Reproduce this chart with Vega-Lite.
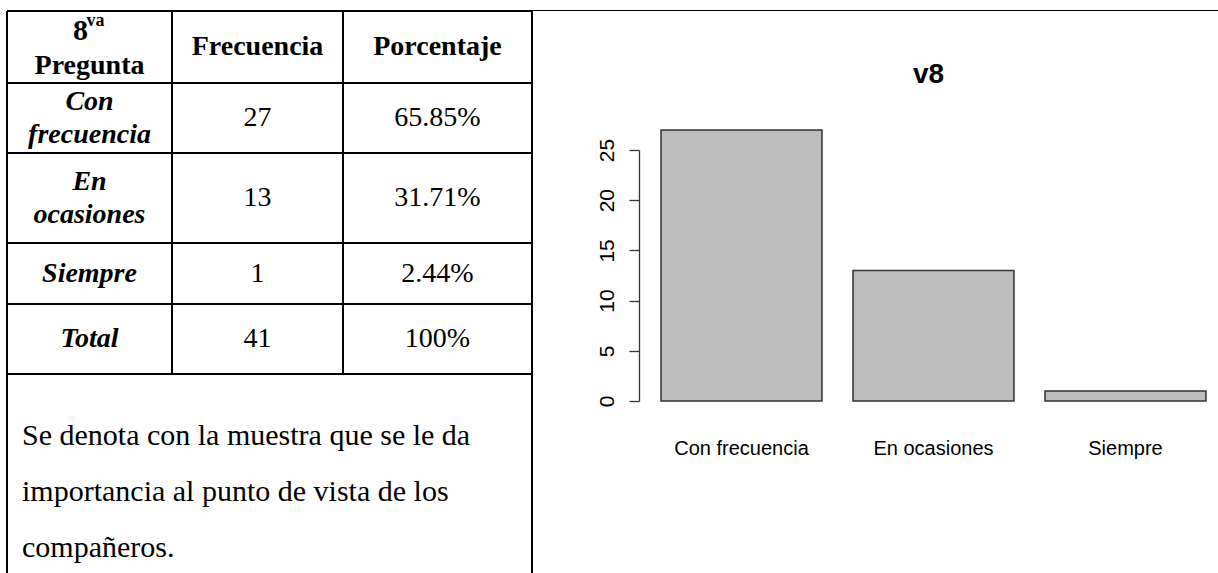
{
  "$schema": "https://vega.github.io/schema/vega-lite/v6.json",
  "padding": 0,
  "background": "white",
  "spacing": 0,
  "bounds": "flush",
  "config": {"view": {"stroke": null}},
  "datasets": {
    "tabla": [
      {"respuesta": "Con frecuencia", "fila": 2, "frecuencia": 27, "porcentaje": "65.85%"},
      {"respuesta": "En ocasiones", "fila": 3, "frecuencia": 13, "porcentaje": "31.71%"},
      {"respuesta": "Siempre", "fila": 4, "frecuencia": 1, "porcentaje": "2.44%"},
      {"respuesta": "Total", "fila": 5, "frecuencia": 41, "porcentaje": "100%"}
    ],
    "encabezados": [
      {"columna": 2, "texto": "Frecuencia"},
      {"columna": 3, "texto": "Porcentaje"}
    ],
    "pregunta": [{"numero": "8", "sufijo": "va", "texto": "Pregunta"}],
    "hlineas": [
      {"pos": 0.5, "desde": 0.5, "hasta": 3.5},
      {"pos": 1.5, "desde": 0.5, "hasta": 3.5},
      {"pos": 2.5, "desde": 0.5, "hasta": 3.5},
      {"pos": 3.5, "desde": 0.5, "hasta": 3.5},
      {"pos": 4.5, "desde": 0.5, "hasta": 3.5},
      {"pos": 5.5, "desde": 0.5, "hasta": 3.5}
    ],
    "vlineas": [
      {"pos": 0.5, "desde": 0.5, "hasta": 6.5},
      {"pos": 1.5, "desde": 0.5, "hasta": 5.5},
      {"pos": 2.5, "desde": 0.5, "hasta": 5.5},
      {"pos": 3.5, "desde": 0.5, "hasta": 6.5}
    ],
    "borde": [{"pos": 0.5, "desde": 3.5, "hasta": 4.5}],
    "nota": [{"texto": "Se denota con la muestra que se le da\nimportancia al punto de vista de los\ncompañeros."}]
  },
  "hconcat": [
    {
      "width": 639,
      "height": 573,
      "layer": [
        {
          "data": {"name": "hlineas"},
          "mark": {"type": "rule", "strokeWidth": 2, "color": "black"},
          "encoding": {
            "y": {"field": "pos", "type": "quantitative", "axis": null, "scale": {"domain": [0.5, 1.5, 2.5, 3.5, 4.5, 5.5, 6.5], "range": [11, 83, 153, 243, 304, 374, 573], "nice": false, "zero": false}},
            "x": {"field": "desde", "type": "quantitative", "axis": null, "scale": {"domain": [0.5, 1.5, 2.5, 3.5, 4.5], "range": [7, 172, 343, 532, 1218], "nice": false, "zero": false}},
            "x2": {"field": "hasta"}
          }
        },
        {
          "data": {"name": "vlineas"},
          "mark": {"type": "rule", "strokeWidth": 2, "color": "black"},
          "encoding": {
            "x": {"field": "pos", "type": "quantitative", "axis": null},
            "y": {"field": "desde", "type": "quantitative", "axis": null},
            "y2": {"field": "hasta"}
          }
        },
        {
          "data": {"name": "borde"},
          "mark": {"type": "rule", "strokeWidth": 1, "color": "black", "yOffset": -0.5},
          "encoding": {
            "y": {"field": "pos", "type": "quantitative", "axis": null},
            "x": {"field": "desde", "type": "quantitative", "axis": null},
            "x2": {"field": "hasta"}
          }
        },
        {
          "data": {"name": "encabezados"},
          "mark": {"type": "text", "font": "Liberation Serif", "fontSize": 28, "fontWeight": "bold", "baseline": "middle", "align": "center", "color": "black"},
          "encoding": {
            "x": {"field": "columna", "type": "quantitative", "axis": null},
            "y": {"datum": 1, "type": "quantitative", "axis": null},
            "text": {"field": "texto"}
          }
        },
        {
          "data": {"name": "pregunta"},
          "mark": {"type": "text", "font": "Liberation Serif", "fontSize": 28, "fontWeight": "bold", "baseline": "alphabetic", "align": "center", "dy": 27, "color": "black"},
          "encoding": {
            "x": {"datum": 1, "type": "quantitative", "axis": null},
            "y": {"datum": 1, "type": "quantitative", "axis": null},
            "text": {"field": "texto"}
          }
        },
        {
          "data": {"name": "pregunta"},
          "mark": {"type": "text", "font": "Liberation Serif", "fontSize": 30, "fontWeight": "bold", "baseline": "alphabetic", "align": "center", "dx": -9, "dy": -7, "color": "black"},
          "encoding": {
            "x": {"datum": 1, "type": "quantitative", "axis": null},
            "y": {"datum": 1, "type": "quantitative", "axis": null},
            "text": {"field": "numero"}
          }
        },
        {
          "data": {"name": "pregunta"},
          "mark": {"type": "text", "font": "Liberation Serif", "fontSize": 18, "fontWeight": "bold", "baseline": "alphabetic", "align": "center", "dx": 6, "dy": -21, "color": "black"},
          "encoding": {
            "x": {"datum": 1, "type": "quantitative", "axis": null},
            "y": {"datum": 1, "type": "quantitative", "axis": null},
            "text": {"field": "sufijo"}
          }
        },
        {
          "data": {"name": "tabla"},
          "transform": [{"filter": "indexof(datum.respuesta, ' ') >= 0"}],
          "mark": {"type": "text", "font": "Liberation Serif", "fontSize": 28, "fontWeight": "bold", "fontStyle": "italic", "baseline": "middle", "align": "center", "lineBreak": " ", "lineHeight": 33, "dy": -16, "color": "black"},
          "encoding": {
            "x": {"datum": 1, "type": "quantitative", "axis": null},
            "y": {"field": "fila", "type": "quantitative", "axis": null},
            "text": {"field": "respuesta"}
          }
        },
        {
          "data": {"name": "tabla"},
          "transform": [{"filter": "indexof(datum.respuesta, ' ') < 0"}],
          "mark": {"type": "text", "font": "Liberation Serif", "fontSize": 28, "fontWeight": "bold", "fontStyle": "italic", "baseline": "middle", "align": "center", "color": "black"},
          "encoding": {
            "x": {"datum": 1, "type": "quantitative", "axis": null},
            "y": {"field": "fila", "type": "quantitative", "axis": null},
            "text": {"field": "respuesta"}
          }
        },
        {
          "data": {"name": "tabla"},
          "mark": {"type": "text", "font": "Liberation Serif", "fontSize": 28, "baseline": "middle", "align": "center", "color": "black"},
          "encoding": {
            "x": {"datum": 2, "type": "quantitative", "axis": null},
            "y": {"field": "fila", "type": "quantitative", "axis": null},
            "text": {"field": "frecuencia"}
          }
        },
        {
          "data": {"name": "tabla"},
          "mark": {"type": "text", "font": "Liberation Serif", "fontSize": 28, "baseline": "middle", "align": "center", "color": "black"},
          "encoding": {
            "x": {"datum": 3, "type": "quantitative", "axis": null},
            "y": {"field": "fila", "type": "quantitative", "axis": null},
            "text": {"field": "porcentaje"}
          }
        },
        {
          "data": {"name": "nota"},
          "mark": {"type": "text", "font": "Liberation Serif", "fontSize": 30, "baseline": "alphabetic", "align": "left", "lineBreak": "\n", "lineHeight": 56, "dx": 15, "dy": 71, "color": "black"},
          "encoding": {
            "x": {"datum": 0.5, "type": "quantitative", "axis": null},
            "y": {"datum": 5.5, "type": "quantitative", "axis": null},
            "text": {"field": "texto"}
          }
        }
      ]
    },
    {
      "width": 579,
      "height": 401,
      "title": {"text": "v8", "font": "Liberation Sans", "fontSize": 28, "fontWeight": "bold", "anchor": "middle", "frame": "group", "offset": -89, "color": "black"},
      "data": {"name": "tabla"},
      "transform": [{"filter": "datum.respuesta !== 'Total'"}],
      "mark": {"type": "bar", "fill": "#BEBEBE", "stroke": "#333333", "strokeWidth": 1.5},
      "encoding": {
        "x": {
          "field": "respuesta", "type": "nominal", "sort": null,
          "scale": {"paddingInner": 0.1615, "paddingOuter": 0.0886, "align": 0.647},
          "axis": {"title": null, "domain": false, "ticks": false, "labelAngle": 0, "labelFont": "Liberation Sans", "labelFontSize": 20, "labelColor": "black", "labelPadding": 37}
        },
        "y": {
          "field": "frecuencia", "type": "quantitative",
          "scale": {"domain": [0, 25], "range": [401, 150], "nice": false},
          "axis": {"title": null, "grid": false, "values": [0, 5, 10, 15, 20, 25], "labelAngle": -90, "labelFont": "Liberation Sans", "labelFontSize": 21, "labelColor": "black", "tickSize": 10, "tickColor": "#333333", "tickWidth": 1.3, "domainColor": "#333333", "domainWidth": 1.3, "labelPadding": 12}
        }
      }
    }
  ]
}
